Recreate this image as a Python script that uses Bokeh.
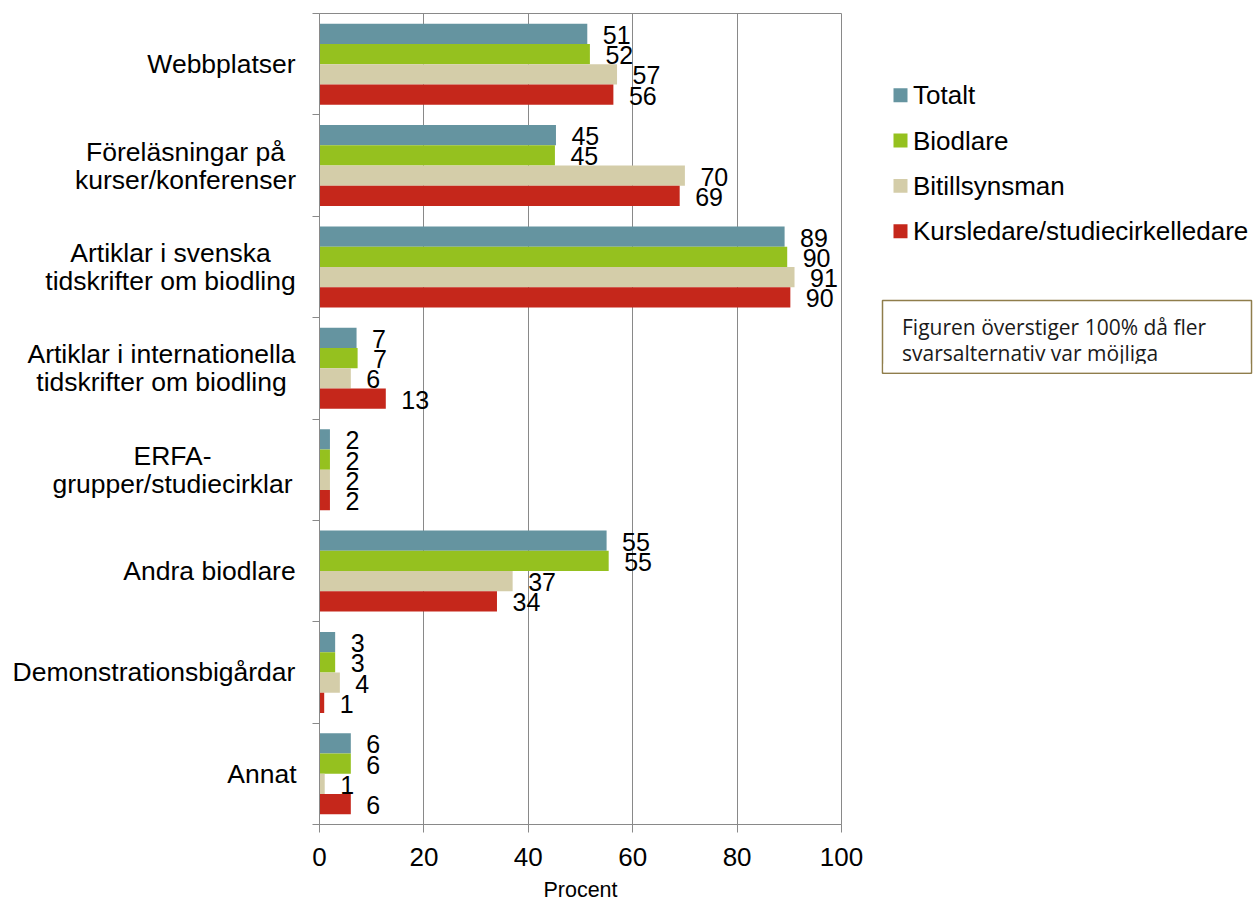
from bokeh.plotting import figure
from bokeh.layouts import row
from bokeh.models import Range1d, FixedTicker, ColumnDataSource
from bokeh.embed import file_html
from bokeh.resources import INLINE
from bokeh.core.properties import value

# ---------------- data ----------------
categories = [
    "Webbplatser",
    "Föreläsningar på\nkurser/konferenser",
    "Artiklar i svenska\ntidskrifter om biodling",
    "Artiklar i internationella\ntidskrifter om biodling",
    "ERFA-\ngrupper/studiecirklar",
    "Andra biodlare",
    "Demonstrationsbigårdar",
    "Annat",
]
series = ["Totalt", "Biodlare", "Bitillsynsman", "Kursledare/studiecirkelledare"]
totalt = [51.3, 45.3, 89.1, 7.1, 2.0, 55.0, 3.0, 6.0]
biodlare = [51.8, 45.1, 89.6, 7.3, 2.0, 55.4, 3.0, 6.0]
bitillsynsman = [57.0, 70.0, 91.0, 6.0, 2.0, 37.0, 3.9, 1.0]
kursledare = [56.3, 69.0, 90.2, 12.7, 2.0, 34.0, 0.9, 6.0]
x_ticks = [0, 20, 40, 60, 80, 100]
x_label = "Procent"
note_lines = ["Figuren överstiger 100% då fler", "svarsalternativ var möjliga"]

# ---------------- style ----------------
colors = ["#6594A0", "#95C11F", "#D4CDA9", "#C5271B"]
AX = "#898989"
FONT = "Liberation Sans"
cat_centers = [221, 185, 170, 161, 172, 209, 153.5, 261.5]  # label block centres (px)

H = 904
TOP, BOTTOM = 13, 77
n = len(categories)
yr = Range1d(n, 0)

LW = 304            # width of category-label panel
MW = 15 + 522 + 22  # width of chart panel
RW = 392            # width of legend panel
OX = LW + MW        # x where the legend panel starts

# ---------------- main chart ----------------
p = figure(width=MW, height=H, x_range=Range1d(0, 100), y_range=yr,
           output_backend="svg", toolbar_location=None, title=None,
           min_border_left=15, min_border_right=22,
           min_border_top=TOP, min_border_bottom=BOTTOM)
p.outline_line_color = AX
p.background_fill_color = "white"
p.ygrid.visible = False
p.xgrid.ticker = FixedTicker(ticks=x_ticks)
p.xgrid.grid_line_color = AX

xa = p.xaxis[0]
xa.ticker = FixedTicker(ticks=x_ticks)
xa.axis_line_color = AX
xa.major_tick_line_color = AX
xa.major_tick_out = 8
xa.major_tick_in = 0
xa.minor_tick_line_color = None
xa.major_label_text_font = FONT
xa.major_label_text_font_size = "26px"
xa.major_label_text_color = "black"
xa.major_label_standoff = 15
xa.axis_label = x_label
xa.axis_label_text_font = FONT
xa.axis_label_text_font_size = "21.5px"
xa.axis_label_text_font_style = "normal"
xa.axis_label_text_color = "black"
xa.axis_label_standoff = 9

ya = p.yaxis[0]
ya.ticker = FixedTicker(ticks=list(range(n + 1)))
ya.axis_line_color = AX
ya.major_tick_line_color = AX
ya.major_tick_out = 7
ya.major_tick_in = 0
ya.minor_tick_line_color = None
ya.major_label_overrides = {i: "" for i in range(n + 1)}
ya.major_label_standoff = 0

all_vals = [totalt, biodlare, bitillsynsman, kursledare]
bar_h = 0.2
for j, (vals, col) in enumerate(zip(all_vals, colors)):
    ys = [i + 0.2 + bar_h * j for i in range(n)]
    labels = [str(int(v + 0.5)) for v in vals]
    src = ColumnDataSource(dict(y=ys, v=vals, lab=labels))
    p.hbar(y="y", left=0, right="v", height=bar_h, source=src,
           fill_color=col, line_color=None)
    p.text(x="v", y="y", text="lab", source=src, x_offset=15.5, y_offset=1,
           text_align="left", text_baseline="middle",
           text_font=value(FONT), text_font_size="25px", text_color="black")

# ---------------- category labels ----------------
pl = figure(width=LW, height=H, x_range=Range1d(0, LW), y_range=yr,
            output_backend="svg", toolbar_location=None, title=None,
            x_axis_location=None, y_axis_location=None,
            min_border_left=0, min_border_right=0,
            min_border_top=TOP, min_border_bottom=BOTTOM)
pl.outline_line_color = None
pl.grid.visible = False
line_gap = 28 / ((H - TOP - BOTTOM) / n)
lx, ly, lt = [], [], []
for i, (cat, cx) in enumerate(zip(categories, cat_centers)):
    parts = cat.split("\n")
    k = len(parts)
    for m, part in enumerate(parts):
        lx.append(cx)
        ly.append(i + 0.5 + (m - (k - 1) / 2) * line_gap)
        lt.append(part)
pl.text(x=lx, y=ly, text=lt, text_align="center", text_baseline="middle",
        text_font=value(FONT), text_font_size="26.5px", text_color="black")

# ---------------- legend + note ----------------
pr = figure(width=RW, height=H, x_range=Range1d(OX, OX + RW),
            y_range=Range1d(H - BOTTOM, TOP),
            output_backend="svg", toolbar_location=None, title=None,
            x_axis_location=None, y_axis_location=None,
            min_border_left=0, min_border_right=0,
            min_border_top=TOP, min_border_bottom=BOTTOM)
pr.outline_line_color = None
pr.grid.visible = False
leg_y = [95 + 45.5 * j for j in range(len(series))]
pr.rect(x=900, y=leg_y, width=14, height=14, fill_color=colors, line_color=None)
pr.text(x=912.5, y=leg_y, text=series, text_align="left", text_baseline="middle",
        text_font=value(FONT), text_font_size="26px", text_color="black")

pr.quad(left=882, right=1251, top=301, bottom=374,
        fill_color="white", line_color="#8F7D4B", line_width=1.5)
pr.text(x=[901.5] * 2, y=[327.5, 354], text=note_lines, text_align="left",
        text_baseline="alphabetic", text_font=value("Open Sans"),
        text_font_size="21px", text_color="#1a1a1a")
pr.quad(left=883, right=1250, top=364.5, bottom=373,
        fill_color="white", line_color=None)

layout = row(pl, p, pr)
open("out.html", "w").write(file_html(layout, INLINE))
